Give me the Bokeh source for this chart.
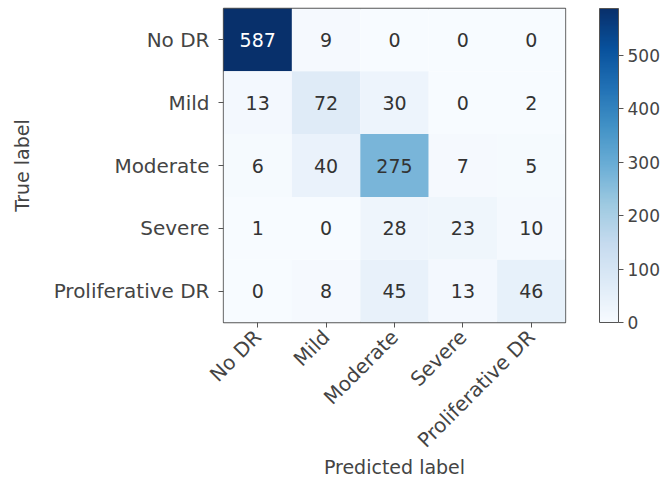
import math
from bokeh.plotting import figure
from bokeh.models import ColumnDataSource, LinearColorMapper, ColorBar, FixedTicker, FactorRange
from bokeh.core.properties import value
from bokeh.embed import file_html
from bokeh.resources import INLINE

classes = ["No DR", "Mild", "Moderate", "Severe", "Proliferative DR"]
matrix = [
    [587, 9, 0, 0, 0],
    [13, 72, 30, 0, 2],
    [6, 40, 275, 7, 5],
    [1, 0, 28, 23, 10],
    [0, 8, 45, 13, 46],
]
cbar_ticks = [0, 100, 200, 300, 400, 500]

# matplotlib "Blues" anchors, interpolated to 256 colours
anchors = ["#f7fbff", "#deebf7", "#c6dbef", "#9ecae1", "#6baed6",
           "#4292c6", "#2171b5", "#08519c", "#08306b"]
def hex2rgb(h):
    return tuple(int(h[i:i + 2], 16) for i in (1, 3, 5))
rgbs = [hex2rgb(h) for h in anchors]
palette = []
for i in range(256):
    t = i / 255 * (len(rgbs) - 1)
    k = min(int(t), len(rgbs) - 2)
    f = t - k
    c = [round(rgbs[k][j] + (rgbs[k + 1][j] - rgbs[k][j]) * f) for j in range(3)]
    palette.append("#%02x%02x%02x" % tuple(c))

vmax = max(max(r) for r in matrix)
thresh = vmax / 2.0

xs, ys, vals, txt, tcol = [], [], [], [], []
for i, row in enumerate(matrix):
    for j, v in enumerate(row):
        xs.append(classes[j])
        ys.append(classes[i])
        vals.append(v)
        txt.append(str(v))
        tcol.append("white" if v > thresh else "#333333")
src = ColumnDataSource(dict(x=xs, y=ys, v=vals, t=txt, c=tcol))

mapper = LinearColorMapper(palette=palette, low=0, high=vmax)

FONT = "DejaVu Sans"
p = figure(frame_width=342, frame_height=314, output_backend="svg", toolbar_location=None,
           x_range=FactorRange(*classes), y_range=FactorRange(*classes[::-1]),
           min_border_left=223, min_border_top=8, min_border_bottom=161, min_border_right=107)
p.rect("x", "y", 1, 1, source=src, fill_color={"field": "v", "transform": mapper},
       line_color=None)
p.text("x", "y", text="t", source=src, text_color="c", text_align="center",
       text_baseline="middle", text_font=value(FONT), text_font_size="19px")

p.grid.visible = False
p.outline_line_color = "#555555"
p.outline_line_width = 1.3
for ax in (p.xaxis[0], p.yaxis[0]):
    ax.axis_line_color = None
    ax.major_tick_line_color = "#555555"
    ax.major_tick_out = 5
    ax.major_tick_in = 0
    ax.minor_tick_line_color = None
    ax.major_label_text_font = FONT
    ax.major_label_text_font_size = "20px"
    ax.major_label_text_color = "#444444"
    ax.major_label_standoff = 9
    ax.axis_label_text_font = FONT
    ax.axis_label_text_font_size = "19px"
    ax.axis_label_text_font_style = "normal"
    ax.axis_label_text_color = "#444444"
p.xaxis.major_label_orientation = math.pi / 4
p.xaxis.major_label_standoff = 6
p.xaxis.axis_label = "Predicted label"
p.xaxis.axis_label_standoff = -8
p.yaxis.axis_label = "True label"
p.yaxis.axis_label_standoff = 18
p.x_range.range_padding = 0
p.y_range.range_padding = 0

cb = ColorBar(color_mapper=mapper, ticker=FixedTicker(ticks=cbar_ticks), width=19, height=314,
              margin=0, padding=0, label_standoff=4, location=(34, 0),
              major_tick_out=5, major_tick_in=0, major_tick_line_color="#555555",
              bar_line_color="#555555", border_line_color=None, background_fill_color=None,
              major_label_text_font=FONT, major_label_text_font_size="17px",
              major_label_text_color="#444444")
p.add_layout(cb, "right")

open("out.html", "w").write(file_html(p, INLINE))
